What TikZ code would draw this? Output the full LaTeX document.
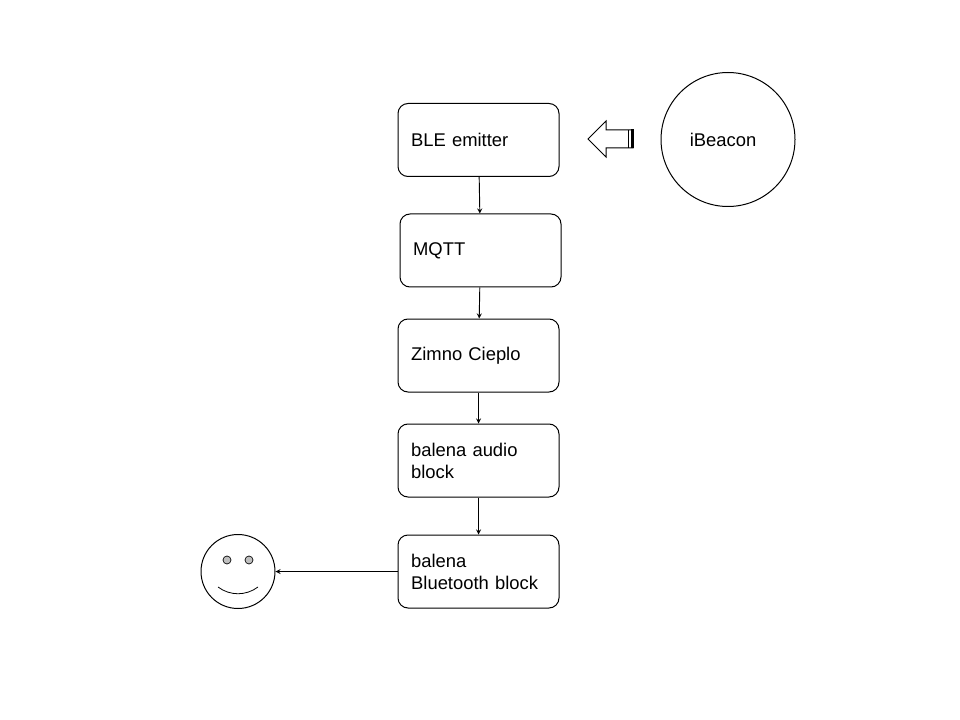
\documentclass[tikz,border=0pt]{standalone}
\usepackage{fontspec}
\setmainfont{Liberation Sans}
\usetikzlibrary{arrows,shapes}
\tikzset{
  blockbox/.style={draw,rounded corners=7.5pt,line width=0.75pt,minimum width=120.75pt,minimum height=54.75pt,
    inner xsep=9.75pt,inner ysep=0pt,text width=101pt,align=left,font=\fontsize{13.8}{16.5}\selectfont,
    execute at end node={\par\vskip-2pt}},
  flow/.style={-stealth,line width=0.7pt},
  eye/.style={circle,draw,line width=0.5pt,fill=black!25,minimum size=6pt,inner sep=0pt}
}
\begin{document}
\begin{tikzpicture}[x=0.75pt,y=-0.75pt]
\fill[white] (0,0) rectangle (960,720);
\node [blockbox] (ble) at (478.5,140) {BLE emitter};
\node [blockbox] (mqtt) at (480.5,250.5) {MQTT};
\node [blockbox] (zimno) at (478.5,355.5) {Zimno Cieplo};
\node [blockbox] (audio) at (478.5,460.5) {balena audio\\block};
\node [blockbox] (bluetooth) at (478.5,571.5) {balena\\Bluetooth block};
\node [circle,draw,line width=0.75pt,minimum size=100.5pt,inner sep=0pt] (beacon) at (728,139.5) {};
\node [font=\fontsize{13.8}{16.5}\selectfont] (beaconlabel) at (723,140) {iBeacon};
\node [circle,draw,line width=0.75pt,minimum size=55.5pt,inner sep=0pt] (smiley) at (238,571.5) {};
\node [eye] (lefteye) at (227,560) {};
\node [eye] (righteye) at (249,560) {};
\draw[line width=0.6pt] (218,587) .. controls (230,596) and (246,596) .. (258,587);
% hollow arrow between emitter and beacon
\draw[line width=0.75pt,fill=white] (633,130) -- (606,130) -- (606,121) -- (588,139) -- (606,157) -- (606,148) -- (633,148) -- cycle;
\draw[line width=0.75pt] (628,130) -- (628,148);
\fill (630.5,129.5) rectangle (633.5,148.5);
\draw[flow] (ble) -- (mqtt);
\draw[flow] (mqtt) -- (zimno);
\draw[flow] (zimno) -- (audio);
\draw[flow] (audio) -- (bluetooth);
\draw[flow] (bluetooth) -- (smiley);
\end{tikzpicture}
\end{document}
